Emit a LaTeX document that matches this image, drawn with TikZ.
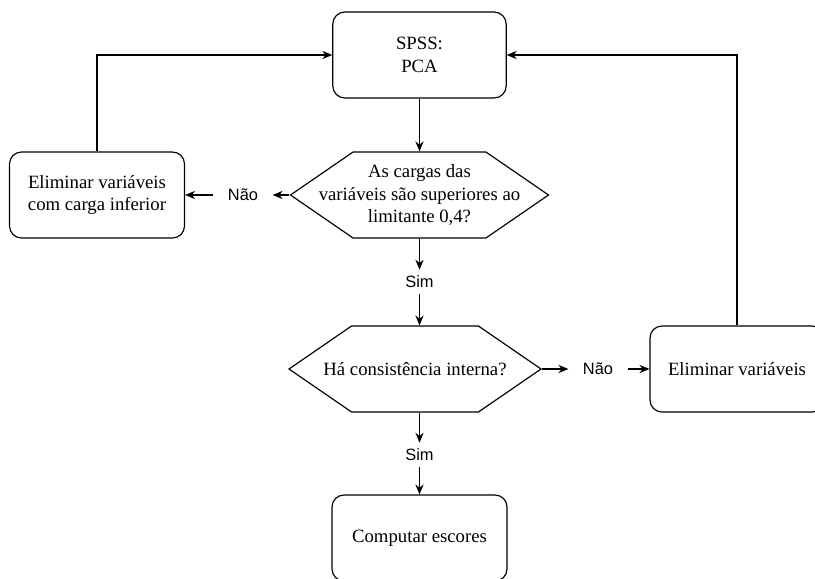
\documentclass[tikz,border=0pt]{standalone}
\usepackage{fontspec}
\setmainfont{Liberation Serif}
\setsansfont{Liberation Sans}
\usetikzlibrary{shapes.symbols,arrows.meta}

\begin{document}
\begin{tikzpicture}[x=0.03cm,y=-0.03cm,line width=1pt,
    caixa/.style={draw,rounded corners=0.36cm,align=center,inner sep=0pt,
        minimum width=5.2cm,minimum height=2.58cm,font=\fontsize{16}{19.5}\selectfont},
    decisao/.style={draw,signal,signal to=west and east,signal pointer angle=69,
        inner sep=0pt,minimum width=7.74cm,minimum height=2.58cm},
    texto/.style={align=center,font=\fontsize{16}{19.5}\selectfont},
    rotulo/.style={font=\sffamily\fontsize{14}{16}\selectfont,inner xsep=0.42cm,inner ysep=0.17cm},
    seta/.style={-{Stealth[length=8.5pt,width=7pt]}}]
    \useasboundingbox (0,0) rectangle (815,578);
    % boxes
    \node[caixa] (spss) at (419.5,55) {SPSS:\\PCA};
    \node[caixa,minimum width=5.25cm] (elim1) at (97,195) {Eliminar variáveis\\com carga inferior};
    \node[caixa,minimum width=5.22cm] (elim2) at (737,369) {Eliminar variáveis};
    \node[caixa,minimum width=5.25cm] (comp) at (419.5,538) {Computar escores};
    % decisions
    \node[decisao] (dec1) at (419.5,195) {};
    \node[texto] (dec1t) at (dec1) {As cargas das\\variáveis são superiores ao\\limitante 0,4?};
    \node[decisao,minimum width=7.56cm] (dec2) at (415,369) {};
    \node[texto] (dec2t) at (dec2) {Há consistência interna?};
    % labels
    \node[rotulo] (nao1) at (243,195) {Não};
    \node[rotulo] (sim1) at (419.5,282) {Sim};
    \node[rotulo] (nao2) at (598,369) {Não};
    \node[rotulo] (sim2) at (419.5,455) {Sim};
    % arrows
    \draw[seta] (spss) -- (dec1);
    \draw[seta] (dec1.west) -- (nao1);
    \draw[seta] (nao1) -- (elim1);
    \draw[seta] (elim1.north) |- (spss.west);
    \draw[seta] (dec1) -- (sim1);
    \draw[seta] (sim1) -- (dec2.north -| sim1);
    \draw[seta] (dec2.east) -- (nao2);
    \draw[seta] (nao2) -- (elim2);
    \draw[seta] (elim2.north) |- (spss.east);
    \draw[seta] (dec2.south -| sim2) -- (sim2);
    \draw[seta] (sim2) -- (comp);
\end{tikzpicture}
\end{document}
